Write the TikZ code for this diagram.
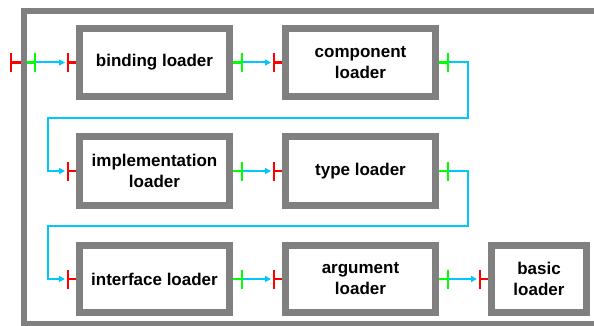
\documentclass[tikz,border=0pt]{standalone}
\usepackage{fontspec}
\setmainfont{Liberation Sans}
\usetikzlibrary{arrows.meta,calc}
\definecolor{framegray}{RGB}{128,128,128}
\definecolor{flowcyan}{RGB}{0,200,255}
\definecolor{tickred}{RGB}{255,0,0}
\definecolor{tickgreen}{RGB}{0,255,0}
\begin{document}
\begin{tikzpicture}[x=1pt,y=-1pt,
  loader/.style={draw=framegray, line width=7pt, fill=white, minimum width=150pt,
    minimum height=68pt, align=center, inner sep=0pt,
    font=\fontsize{17}{21}\selectfont\bfseries, text=black},
  flow/.style={draw=flowcyan, line width=2pt, -{Triangle[length=6pt,width=6pt]}},
  outport/.style={draw=tickgreen, line width=2.3pt, -{Bar[width=19pt]}},
  inport/.style={draw=tickred, line width=2.3pt, {Bar[width=19pt]}-},
]
\clip (0,0) rectangle (594,326);
% container frame (runs past the right and bottom edges)
\node[draw=framegray, line width=6pt, minimum width=586pt, minimum height=313pt,
  inner sep=0pt, outer sep=0pt, anchor=north west] (sys) at (24,11) {};
% loaders
\node[loader] (binding) at (154.5,62.5) {binding loader};
\node[loader] (component) at (360.5,62.5) {component\\loader};
\node[loader, minimum height=69pt] (impl) at (154.5,171) {implementation\\loader};
\node[loader, minimum height=69pt] (type) at (360.5,171) {type loader};
\node[loader, minimum height=67pt] (iface) at (154.5,279) {interface loader};
\node[loader, minimum height=67pt] (argument) at (360.5,279) {argument\\loader};
\node[loader, minimum width=95pt, minimum height=67pt] (basic) at (539,279) {basic\\loader};

% ports
\coordinate (sysL) at ($(sys.west |- binding.west)+(-3,0)$);
\coordinate (sysR) at ($(sys.west |- binding.west)+(3,0)$);
\draw[inport] ($(sysL)+(-11,0)$) -- (sysL);
\draw[outport] (sysR) -- ++(9,0) coordinate (o0);

\foreach \n in {binding,component,impl,type,iface,argument,basic}{
  \draw[inport] ($(\n.west)+(-9.5,0)$) coordinate (\n-in) -- (\n.west);
}
\foreach \n in {binding,component,impl,type,iface,argument}{
  \draw[outport] (\n.east) -- ($(\n.east)+(10,0)$) coordinate (\n-out);
}

% flows
\draw[flow] (o0) -- ($(binding-in)+(-1.5,0)$);
\draw[flow] (binding-out) -- ($(component-in)+(-1.5,0)$);
\draw[flow] (impl-out) -- ($(type-in)+(-1.5,0)$);
\draw[flow] (iface-out) -- ($(argument-in)+(-1.5,0)$);
\draw[flow] (argument-out) -- ($(basic-in)+(-1.5,0)$);
\coordinate (turn1) at (468,118);
\coordinate (turn2) at (468,226);
\coordinate (back) at (48,0);
\draw[flow] (component-out) -| (turn1) -| (back |- impl-in) -- ($(impl-in)+(-1.5,0)$);
\draw[flow] (type-out) -| (turn2) -| (back |- iface-in) -- ($(iface-in)+(-1.5,0)$);
\end{tikzpicture}
\end{document}
